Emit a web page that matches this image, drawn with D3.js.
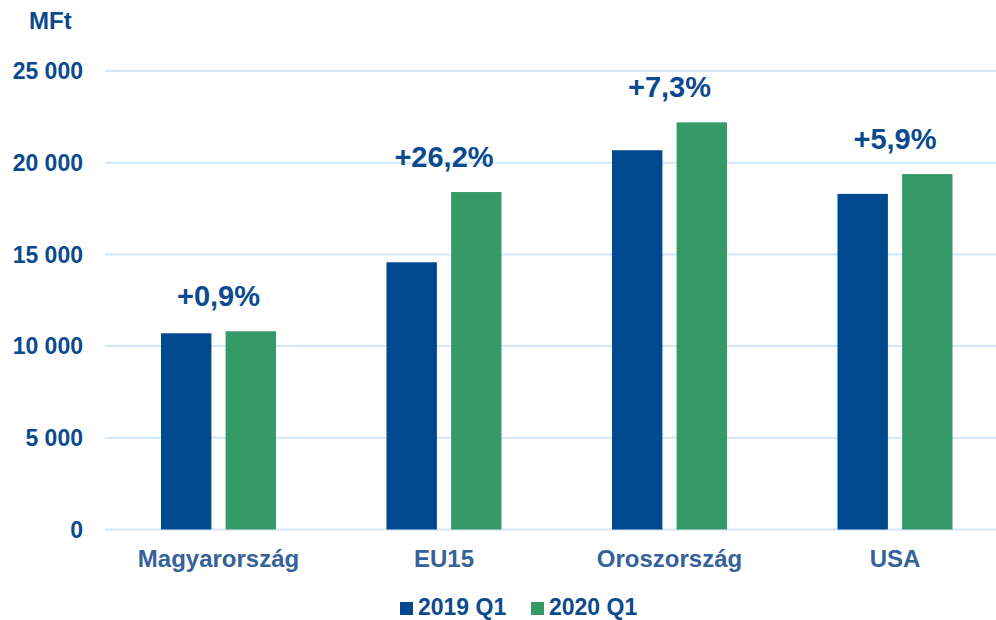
<!DOCTYPE html>
<html lang="hu">
<head>
    <meta charset="UTF-8">
    <title>MFt - 2019 Q1 vs 2020 Q1</title>
    <script src="https://d3js.org/d3.v7.min.js"></script>
    <style>
        body { margin: 0; background: #fff; }
        svg { display: block; font-family: "Liberation Sans", Arial, sans-serif; font-weight: bold; }
    </style>
</head>
<body>
<svg width="996" height="620"></svg>
<script>
    // Data
    const categories = ["Magyarország", "EU15", "Oroszország", "USA"];
    const seriesNames = ["2019 Q1", "2020 Q1"];
    const values2019 = [10700, 14570, 20680, 18300];
    const values2020 = [10810, 18400, 22200, 19380];
    const changeLabels = ["+0,9%", "+26,2%", "+7,3%", "+5,9%"];
    const yTicks = [0, 5000, 10000, 15000, 20000, 25000];

    const colors = ["#00498F", "#359A68"];
    const textBlue = "#0B4A8D";
    const catBlue = "#36629A";

    const svg = d3.select("svg");
    const plotLeft = 105.75, plotRight = 1007.75, plotTop = 71, plotBottom = 529.5;

    const x = d3.scaleBand().domain(categories).range([plotLeft, plotRight]).paddingInner(0).paddingOuter(0);
    const y = d3.scaleLinear().domain([0, 25000]).range([plotBottom, plotTop]);
    // two bars per category, ~50px wide with a ~14px gap
    const x1 = d3.scaleBand().domain(seriesNames).range([x.bandwidth() / 2 - 57.5, x.bandwidth() / 2 + 57.5]).paddingInner(0.22);

    const fmt = v => d3.format(",")(v).replace(/,/g, " ");

    // gridlines
    svg.append("g").selectAll("line").data(yTicks).join("line")
        .attr("x1", 105).attr("x2", 996)
        .attr("y1", d => y(d)).attr("y2", d => y(d))
        .attr("stroke", "#D3E5F8").attr("stroke-width", 2);

    // y tick labels
    svg.append("g").selectAll("text").data(yTicks).join("text")
        .attr("x", 83).attr("y", d => y(d)).attr("dy", "0.36em")
        .attr("text-anchor", "end").attr("font-size", 23).attr("fill", textBlue)
        .text(fmt);

    // unit label
    svg.append("text").attr("x", 29).attr("y", 29)
        .attr("font-size", 24).attr("fill", textBlue).text("MFt");

    // bars
    const rows = categories.map((c, i) => ({ cat: c, vals: [values2019[i], values2020[i]], label: changeLabels[i] }));
    const groups = svg.append("g").selectAll("g").data(rows).join("g")
        .attr("transform", d => `translate(${x(d.cat)},0)`);

    groups.selectAll("rect").data(d => d.vals.map((v, j) => ({ s: seriesNames[j], v, j }))).join("rect")
        .attr("x", d => x1(d.s)).attr("width", x1.bandwidth())
        .attr("y", d => y(d.v)).attr("height", d => y(0) - y(d.v))
        .attr("fill", d => colors[d.j]);

    // change labels above bars
    groups.append("text")
        .attr("x", x.bandwidth() / 2)
        .attr("y", d => y(d3.max(d.vals)) - 25)
        .attr("text-anchor", "middle").attr("font-size", 29).attr("fill", textBlue)
        .text(d => d.label);

    // category labels
    svg.append("g").selectAll("text").data(categories).join("text")
        .attr("x", d => x(d) + x.bandwidth() / 2).attr("y", 567)
        .attr("text-anchor", "middle").attr("font-size", 24).attr("fill", catBlue)
        .text(d => d);

    // legend
    const legendX = [400, 531];
    const legend = svg.append("g").selectAll("g").data(seriesNames).join("g")
        .attr("transform", (d, i) => `translate(${legendX[i]},602)`);
    legend.append("rect").attr("width", 13).attr("height", 13).attr("fill", (d, i) => colors[i]);
    legend.append("text").attr("x", 18).attr("y", 13)
        .attr("font-size", 23).attr("fill", textBlue).text(d => d);
</script>
</body>
</html>
